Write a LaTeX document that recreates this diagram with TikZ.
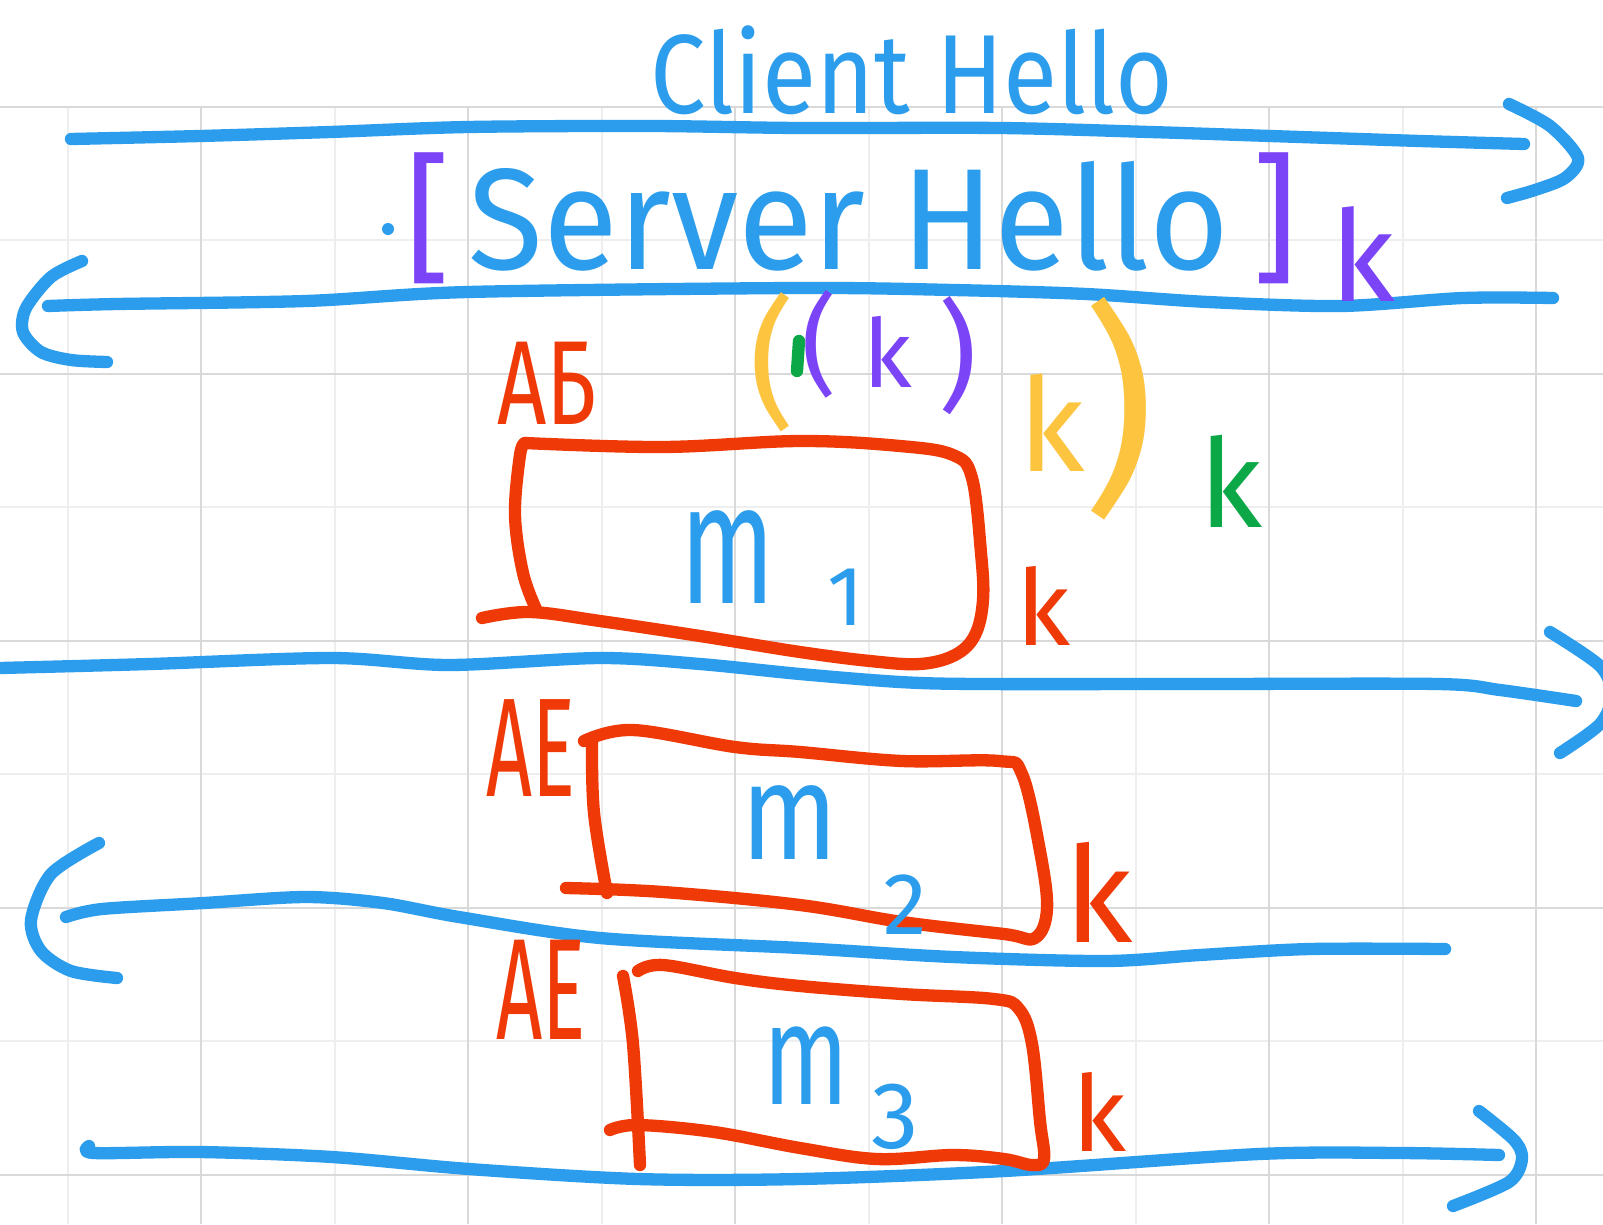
\documentclass[tikz,border=0pt]{standalone}
\usepackage{fontspec}
\setmainfont{Fira Sans}
\usepackage{xcolor}
\definecolor{inkblue}{RGB}{44,157,236}
\definecolor{inkred}{RGB}{239,58,8}
\definecolor{inkpurple}{RGB}{124,68,247}
\definecolor{inkyellow}{RGB}{253,196,64}
\definecolor{inkgreen}{RGB}{12,168,72}
\definecolor{gridlight}{RGB}{238,238,238}
\definecolor{griddark}{RGB}{217,217,217}
\newcommand{\inksize}[1]{\fontsize{#1}{#1}\selectfont}
\usepackage{tikz}
\usetikzlibrary{calc}

\begin{document}
\begin{tikzpicture}[x=0.01cm, y=-0.01cm,
    pen/.style={line width=3.5pt, line cap=round, line join=round},
    scrawl/.style={inner sep=0pt, anchor=center}]

    \fill [white] (0,0) rectangle (1603,1224);
    \useasboundingbox (0,0) rectangle (1603,1224);

    % squared paper
    \foreach \x in {68,335,...,1600}
      \draw [gridlight, line width=0.6pt] (\x,107) -- (\x,1224);
    \foreach \y in {240,507,...,1224}
      \draw [gridlight, line width=0.6pt] (0,\y) -- (1603,\y);
    \foreach \x in {201,468,...,1600}
      \draw [griddark, line width=0.7pt] (\x,107) -- (\x,1224);
    \foreach \y in {107,374,...,1224}
      \draw [griddark, line width=0.7pt] (0,\y) -- (1603,\y);

    % messages
    \draw [pen, inkblue] plot [smooth] coordinates {(71,139) (200,136) (330,132)
      (468,127) (650,126) (800,128) (1000,128) (1150,132) (1300,137) (1420,141) (1524,144)};
    \draw [pen, inkblue] plot [smooth] coordinates {(1509,104) (1550,126) (1578,158)
      (1565,178) (1535,190) (1507,198)};

    \draw [pen, inkblue] plot [smooth] coordinates {(1553,298) (1463,298) (1341,306)
      (1208,302) (1086,294) (953,290) (800,288) (468,292) (306,301) (117,304) (48,306)};
    \draw [pen, inkblue] plot [smooth] coordinates {(82,261) (51,277) (26,308)
      (23,332) (41,352) (71,360) (107,362)};

    \draw [pen, inkblue] plot [smooth] coordinates {(0,668) (150,664) (332,658)
      (449,665) (600,658) (700,664) (800,674) (900,682) (979,684) (1200,684)
      (1438,684) (1500,690) (1576,701)};
    \draw [pen, inkblue] plot [smooth] coordinates {(1550,632) (1600,666) (1612,695)
      (1600,724) (1560,753)};

    \draw [pen, inkblue] plot [smooth] coordinates {(1445,949) (1310,949) (1200,955)
      (1106,961) (953,957) (800,948) (600,938) (459,917) (383,903) (306,897)
      (204,903) (102,909) (66,917)};
    \draw [pen, inkblue] plot [smooth] coordinates {(99,843) (51,874) (31,920)
      (41,951) (71,971) (117,978)};

    \draw [pen, inkblue] plot [smooth] coordinates {(89,1146) (94,1153) (200,1152)
      (332,1157) (469,1169) (638,1179) (800,1179) (1004,1171) (1259,1154)
      (1400,1153) (1499,1155)};
    \draw [pen, inkblue] plot [smooth] coordinates {(1479,1111) (1514,1140) (1522,1159)
      (1509,1182) (1453,1206)};

    % labels on the top two
    \node [scrawl, text=inkblue] (client) at (912,70)
      {\inksize{32pt}\scalebox{0.88}[1]{Client Hello}};
    \fill [inkblue] (388,229) circle (0.06cm);
    \node [scrawl, text=inkpurple] (lbr) at (428,218) {\inksize{40pt}[};
    \node [scrawl, text=inkblue] (server) at (849,216)
      {\inksize{41pt}\scalebox{0.95}[1]{Server Hello}};
    \node [scrawl, text=inkpurple] (rbr) at (1275,218) {\inksize{40pt}]};
    \node [scrawl, text=inkpurple] (kserver) at (1363,254) {\inksize{36pt}k};

    % nested keys
    \node [scrawl, text=inkyellow] (ylp) at (772,362) {\inksize{40pt}(};
    \draw [pen, inkgreen] (799,341) -- (797,371);
    \node [scrawl, text=inkpurple] (plp) at (819,344) {\inksize{31pt}(};
    \node [scrawl, text=inkpurple] (pk) at (888,352) {\inksize{27pt}k};
    \node [scrawl, text=inkpurple] (prp) at (958,356) {\inksize{34pt})};
    \node [scrawl, text=inkyellow] (yk) at (1052,423) {\inksize{37pt}k};
    \node [scrawl, text=inkyellow] (yrp) at (1119,409) {\inksize{64pt})};
    \node [scrawl, text=inkgreen] (gk) at (1231,481) {\inksize{35pt}k};

    % encrypted records
    \draw [pen, inkred] plot [smooth, tension=0.6] coordinates {(536,609) (523,573)
      (515,515) (520,455) (525,443)};
    \draw [pen, inkred] plot [smooth, tension=0.6] coordinates {(525,443) (663,447)
      (800,441) (900,446) (953,455) (972,478) (981,553) (983,600) (975,635)
      (955,655) (920,664) (870,661) (800,652) (700,636) (600,621) (530,612) (482,618)};

    \draw [pen, inkred] plot [smooth, tension=0.6] coordinates {(592,743) (594,813)
      (607,893)};
    \draw [pen, inkred] plot [smooth, tension=0.6] coordinates {(584,741) (633,730)
      (735,747) (800,752) (902,761) (999,761) (1022,774) (1040,851) (1047,909)
      (1035,938) (1004,934) (902,922) (800,905) (663,892) (566,888)};

    \draw [pen, inkred] plot [smooth, tension=0.6] coordinates {(623,976) (633,1044)
      (640,1165)};
    \draw [pen, inkred] plot [smooth, tension=0.6] coordinates {(638,971) (663,965)
      (735,978) (800,986) (902,994) (994,999) (1019,1009) (1032,1044) (1040,1121)
      (1044,1159) (1032,1165) (1004,1159) (953,1155) (877,1159) (800,1148)
      (714,1132) (638,1125) (610,1130)};

    \node [scrawl, text=inkred] (ab) at (547,383)
      {\inksize{34pt}\scalebox{0.72}[1]{AБ}};
    \node [scrawl, text=inkred] (ae2) at (531,748)
      {\inksize{40pt}\scalebox{0.57}[1]{AE}};
    \node [scrawl, text=inkred] (ae3) at (541,990)
      {\inksize{41pt}\scalebox{0.56}[1]{AE}};

    \node [scrawl, text=inkblue] (m1) at (728,557)
      {\inksize{49pt}\scalebox{0.64}[1]{m}};
    \node [scrawl, text=inkblue] (n1) at (846,597) {\inksize{24pt}1};
    \node [scrawl, text=inkblue] (m2) at (790,823)
      {\inksize{39pt}\scalebox{0.82}[1]{m}};
    \node [scrawl, text=inkblue] (n2) at (905,905) {\inksize{25pt}2};
    \node [scrawl, text=inkblue] (m3) at (806,1066)
      {\inksize{41pt}\scalebox{0.69}[1]{m}};
    \node [scrawl, text=inkblue] (n3) at (895,1117) {\inksize{27pt}3};

    \node [scrawl, text=inkred] (k1) at (1043,606) {\inksize{30pt}k};
    \node [scrawl, text=inkred] (k2) at (1099,892) {\inksize{38pt}k};
    \node [scrawl, text=inkred] (k3) at (1099,1112) {\inksize{30pt}k};

  \end{tikzpicture}
\end{document}
